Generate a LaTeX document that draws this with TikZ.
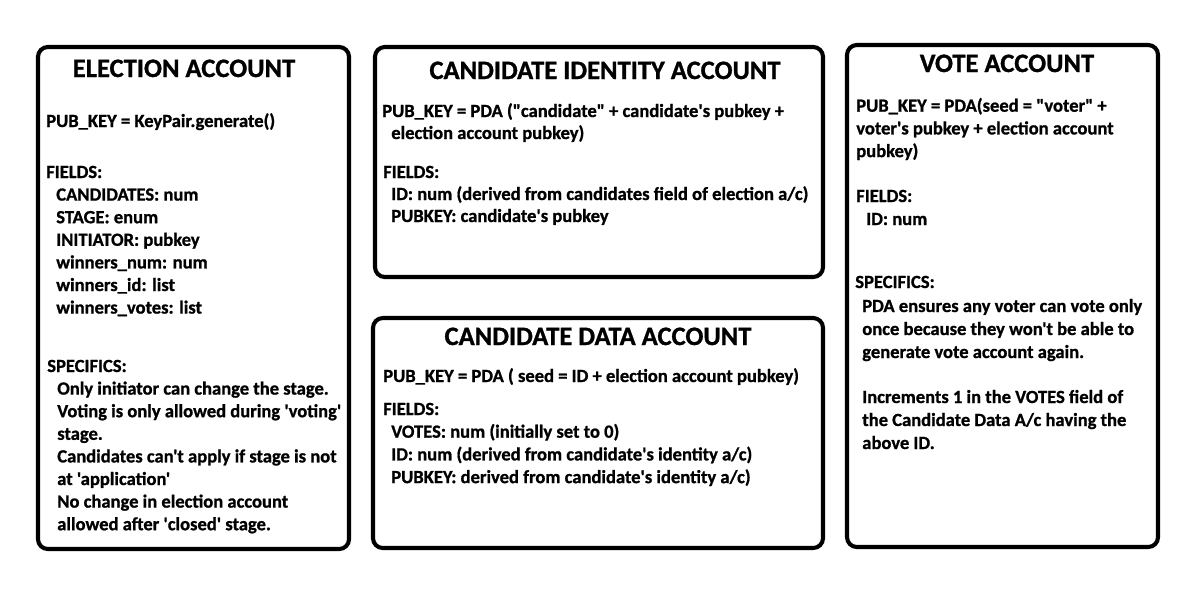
\documentclass[tikz,border=0pt]{standalone}
\usepackage{fontspec}
\newfontfamily\acfont[BoldFeatures={FakeBold=1}]{Carlito}
\tikzset{acct/.style={line width=2.9pt, rounded corners=7pt},
  ttl/.style={anchor=base, inner sep=0pt, font=\acfont\bfseries\fontsize{18.9}{21}\selectfont},
  txt/.style={anchor=base west, inner sep=0pt, font=\acfont\bfseries\fontsize{13.2}{15}\selectfont}}

\begin{document}
\begin{tikzpicture}[x=0.025cm, y=-0.025cm]
      \useasboundingbox (0, 0) rectangle (1200, 600);

      % the four accounts
      \draw [acct] (38, 47) rectangle (349, 549);
      \draw [acct] (375, 47) rectangle (823, 277);
      \draw [acct] (373, 318) rectangle (823, 548);
      \draw [acct] (847, 45) rectangle (1158, 547);

      % election account
      \node [ttl] (elTitle) at (184, 77) {ELECTION ACCOUNT};
      \node [txt] (elKey) at (46, 127) {PUB\_KEY = KeyPair.generate()};
      \node [txt] (elFields) at (46, 178) {FIELDS:};
      \foreach \t [count=\i] in {CANDIDATES: num, STAGE: enum, INITIATOR: pubkey,
          winners\_num: num, winners\_id: list, winners\_votes: list}
        \node [txt] (elF\i) at (56, 178 + 22.6*\i) {\t};
      \node [txt] (elSpec) at (47, 372) {SPECIFICS:};
      \foreach \t [count=\i] in {Only initiator can change the stage.,
          Voting is only allowed during 'voting', stage.,
          Candidates can't apply if stage is not, at 'application',
          No change in election account, allowed after 'closed' stage.}
        \node [txt] (elS\i) at (57, 372 + 22.6*\i) {\t};

      % candidate identity account
      \node [ttl] (ciTitle) at (605, 79) {CANDIDATE IDENTITY ACCOUNT};
      \node [txt] (ciKey) at (382, 117) {PUB\_KEY = PDA ("candidate" + candidate's pubkey +};
      \node [txt] (ciKeyb) at (391, 139) {election account pubkey)};
      \node [txt] (ciFields) at (383, 178) {FIELDS:};
      \node [txt] (ciF1) at (391, 200) {ID: num (derived from candidates field of election a/c)};
      \node [txt] (ciF2) at (391, 222) {PUBKEY: candidate's pubkey};

      % candidate data account
      \node [ttl] (cdTitle) at (598, 345) {CANDIDATE DATA ACCOUNT};
      \node [txt] (cdKey) at (383, 382) {PUB\_KEY = PDA ( seed = ID + election account pubkey)};
      \node [txt] (cdFields) at (383, 415) {FIELDS:};
      \foreach \t [count=\i] in {VOTES: num (initially set to 0),
          ID: num (derived from candidate's identity a/c),
          PUBKEY: derived from candidate's identity a/c)}
        \node [txt] (cdF\i) at (391, 415 + 22.7*\i) {\t};

      % vote account
      \node [ttl] (voTitle) at (1007, 72) {VOTE ACCOUNT};
      \foreach \t [count=\i] in {PUB\_KEY = PDA(seed = "voter" +,
          voter's pubkey + election account, pubkey)}
        \node [txt] (voKey\i) at (856, 89 + 22.7*\i) {\t};
      \node [txt] (voFields) at (856, 202) {FIELDS:};
      \node [txt] (voF1) at (866, 225) {ID: num};
      \node [txt] (voSpec) at (855, 288) {SPECIFICS:};
      \foreach \t [count=\i] in {PDA ensures any voter can vote only,
          once because they won't be able to, generate vote account again.}
        \node [txt] (voS\i) at (862, 289 + 23*\i) {\t};
      \foreach \t [count=\i] in {Increments 1 in the VOTES field of,
          the Candidate Data A/c having the, above ID.}
        \node [txt] (voI\i) at (862, 380 + 23*\i) {\t};
    \end{tikzpicture}
\end{document}
